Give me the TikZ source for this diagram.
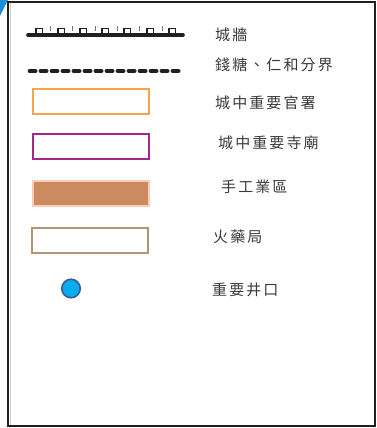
\documentclass[tikz,border=0pt]{standalone}
\usepackage{fontspec}
\newfontfamily\cjk[LetterSpace=14]{Noto Sans CJK TC}
\definecolor{frameC}{HTML}{231F20}
\definecolor{triC}{HTML}{1B8FD6}
\definecolor{orangeC}{HTML}{F5A54A}
\definecolor{purpleC}{HTML}{A3278F}
\definecolor{craftFill}{HTML}{CC8B5E}
\definecolor{craftDraw}{HTML}{F9CDB8}
\definecolor{brownC}{HTML}{B39473}
\definecolor{wellFill}{HTML}{00AEEF}
\definecolor{wellDraw}{HTML}{3F5A8C}
\definecolor{textC}{HTML}{3A3A3A}
\begin{document}
\begin{tikzpicture}[x=1pt,y=-1pt,
  lbl/.style={anchor=west, inner sep=0pt, font=\cjk\fontsize{15}{18}\selectfont, text=textC},
  legendbox/.style={draw, line width=2pt, minimum width=116pt, minimum height=25pt, inner sep=0pt},
  wallline/.style={line width=3.6pt, line cap=round, frameC},
  merlon/.style={line width=1.4pt, frameC},
  tick/.style={line width=1pt, black!55},
  bound/.style={line width=3.6pt, line cap=round, dash pattern=on 6.2pt off 4.8pt, frameC}]
\useasboundingbox (0,0) rectangle (377,428);
\fill[white] (0,0) rectangle (377,428);
% corner triangle
\fill[triC] (0,0) -- (8,0) -- (0,16) -- cycle;
% frame
\draw[black!18, line width=1.5pt] (10.5,3) -- (10.5,425);
\draw[frameC, line width=2pt] (8,2) rectangle (375,426);
% wall symbol
\coordinate (w1) at (28,35);
\coordinate (w2) at (183,35);
\draw[wallline] (w1) -- (w2);
\foreach \x in {36,58,80,102,124,147,169}
  \draw[merlon] (\x,34) -- (\x,28.3) -- (\x+6.5,28.3) -- (\x+6.5,34);
\foreach \x in {50,72,95,117,139,162}
  \draw[tick] (\x,26.5) -- (\x,31);
\node[lbl] (t1) at (215,35) {城牆};
% boundary symbol
\coordinate (b1) at (29.5,71);
\coordinate (b2) at (183,71);
\draw[bound] (b1) -- (b2);
\node[lbl] (t2) at (215,65) {錢糖、仁和分界};
% boxes
\node[legendbox, draw=orangeC] (guan) at (90.8,101.2) {};
\node[lbl] (t3) at (215,103) {城中重要官署};
\node[legendbox, draw=purpleC] (miao) at (90.5,146.7) {};
\node[lbl] (t4) at (218,143) {城中重要寺廟};
\node[legendbox, draw=craftDraw, fill=craftFill] (craft) at (90.5,193.3) {};
\node[lbl] (t5) at (221,187) {手工業區};
\node[legendbox, draw=brownC] (yao) at (89.5,240.8) {};
\node[lbl] (t6) at (213,237) {火藥局};
\node[draw=wellDraw, fill=wellFill, circle, line width=1.6pt, minimum size=18.5pt, inner sep=0pt] (well) at (71,288.5) {};
\node[lbl] (t7) at (212,290) {重要井口};
\end{tikzpicture}
\end{document}
